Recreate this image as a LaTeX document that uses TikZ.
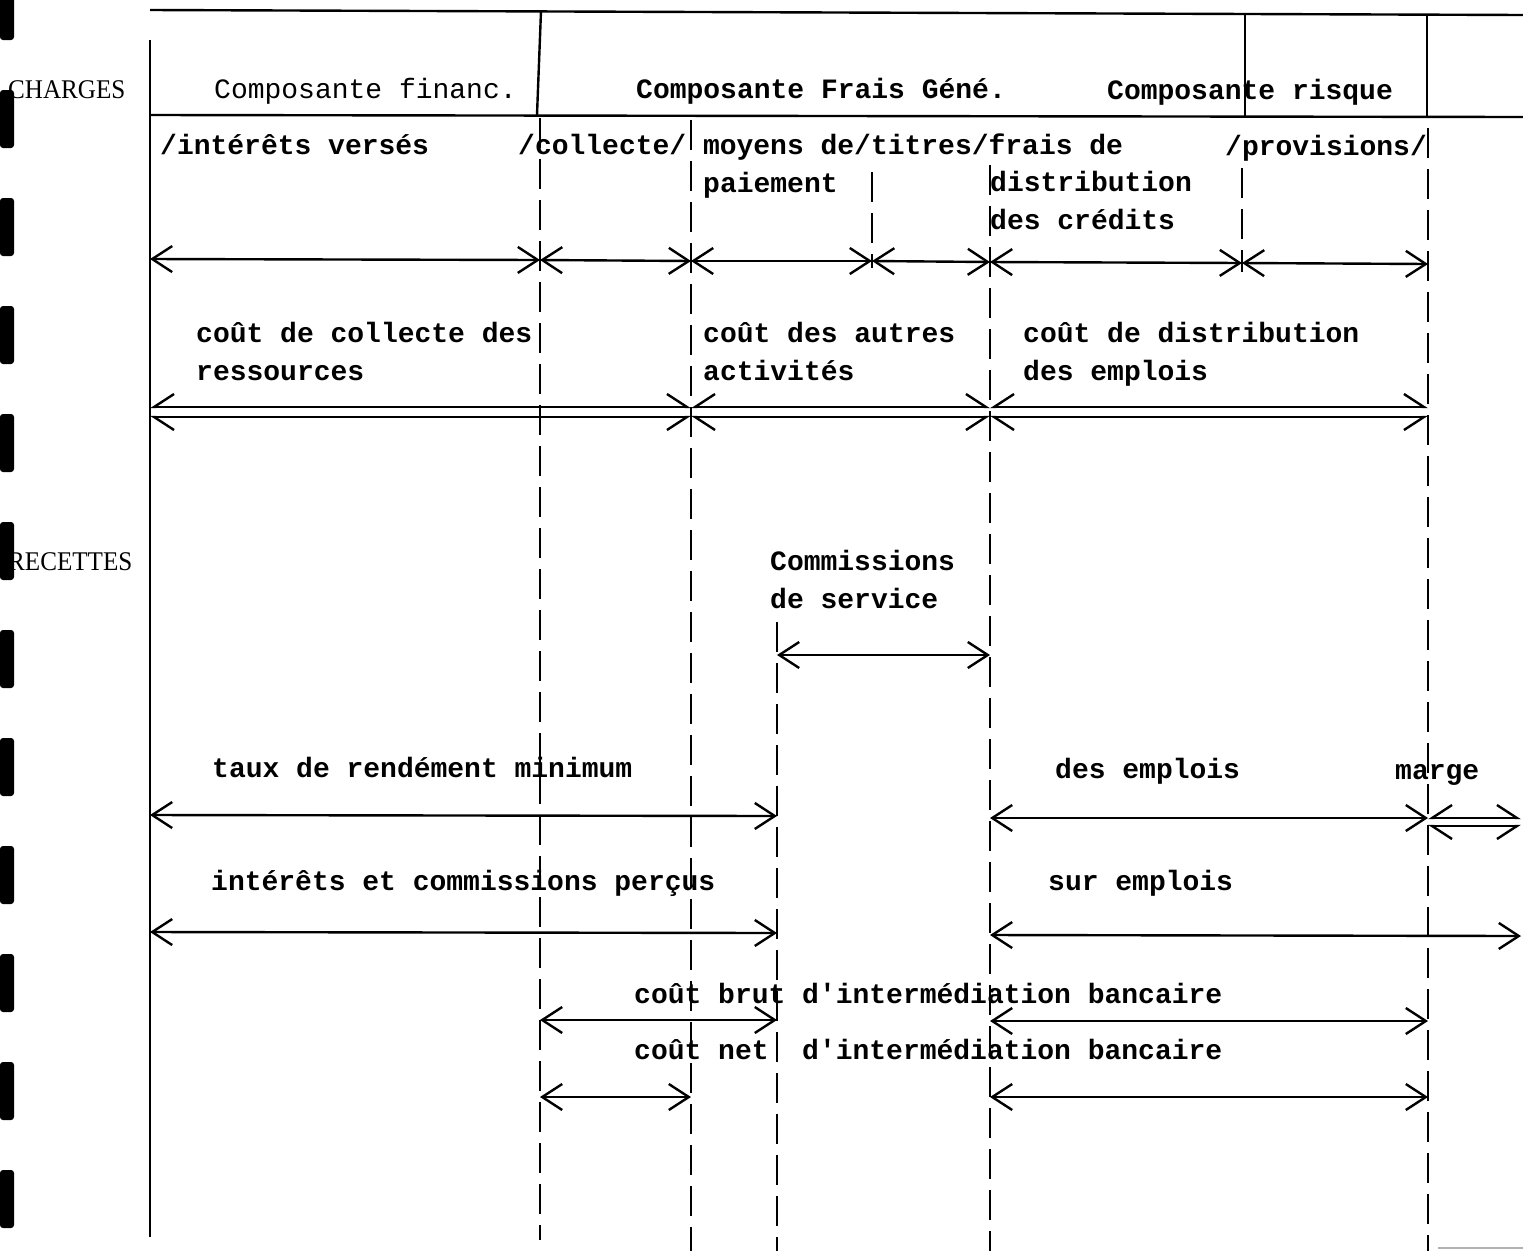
\documentclass[tikz,border=0pt]{standalone}
\usepackage{fontspec}
\setmainfont{Liberation Serif}
\setmonofont{Liberation Mono}
\usepackage{tikz}
\usetikzlibrary{arrows.meta}

\begin{document}
\begin{tikzpicture}[
x=1pt,y=-1pt,
Frame/.style={line width=2.4pt},
Guide/.style={line width=2pt,dash pattern=on 30pt off 11pt},
Dim/.style={<->,>={Straight Barb[length=20pt,width=26pt]},line width=2.4pt},
DimUp/.style={arrows={Straight Barb[harpoon,swap,length=20pt,width=26pt]-Straight Barb[harpoon,length=20pt,width=26pt]},line width=2.4pt},
DimDown/.style={arrows={Straight Barb[harpoon,length=20pt,width=26pt]-Straight Barb[harpoon,swap,length=20pt,width=26pt]},line width=2.4pt},
Typed/.style={font=\ttfamily\bfseries\fontsize{28}{37.5}\selectfont,inner sep=0pt,anchor=base west,align=left},
TypedLight/.style={Typed,font=\ttfamily\fontsize{28}{37.5}\selectfont},
Side/.style={font=\fontsize{27}{30}\selectfont,xscale=0.93,inner sep=0pt,anchor=base west},
Sprocket/.style={fill=black,rounded corners=3pt}
]
\useasboundingbox (0,0) rectangle (1523,1251);

% columns of the table
\pgfmathparse{150}   \let\Xa\pgfmathresult
\pgfmathparse{540}   \let\Xb\pgfmathresult
\pgfmathparse{691}   \let\Xc\pgfmathresult
\pgfmathparse{777}   \let\Xd\pgfmathresult
\pgfmathparse{872}   \let\Xe\pgfmathresult
\pgfmathparse{990}   \let\Xf\pgfmathresult
\pgfmathparse{1242}  \let\Xg\pgfmathresult
\pgfmathparse{1428}  \let\Xh\pgfmathresult
\pgfmathparse{1521}  \let\Xk\pgfmathresult

% header frame
\coordinate (TopL) at (\Xa,10);
\coordinate (TopR) at (1523,15);
\coordinate (HeadL) at (\Xa,115);
\coordinate (HeadR) at (1523,117);
\coordinate (LeftTop) at (\Xa,40);
\coordinate (LeftBot) at (\Xa,1237);
\draw[Frame] (TopL)--(TopR);
\draw[Frame] (HeadL)--(HeadR);
\draw[Frame] (LeftTop)--(LeftBot);

\coordinate (SepBtop) at (541,11);
\coordinate (SepBbot) at (537,115);
\coordinate (SepGtop) at (1245,14);
\coordinate (SepGbot) at (1245,116);
\coordinate (SepHtop) at (1427,15);
\coordinate (SepHbot) at (1427,117);
\draw[Frame] (SepBtop)--(SepBbot);
\draw[Frame] (SepGtop)--(SepGbot);
\draw[Frame] (SepHtop)--(SepHbot);

\node[Side] (charges) at (8,98) {CHARGES};
\node[Side] (recettes) at (8,570) {RECETTES};
\node[TypedLight] (finan) at (214,98) {Composante financ.};
\node[Typed] (frais) at (636,98) {Composante Frais Géné.};
\node[Typed] (risque) at (1107,99) {Composante risque};

% dashed guides
\coordinate (GuideBtop) at (\Xb,118);
\coordinate (GuideBbot) at (\Xb,1240);
\coordinate (GuideCtop) at (\Xc,120);
\coordinate (GuideCbot) at (\Xc,1251);
\coordinate (GuideDtop) at (\Xd,622);
\coordinate (GuideDbot) at (\Xd,1251);
\coordinate (GuideEtop) at (\Xe,172);
\coordinate (GuideEbot) at (\Xe,268);
\coordinate (GuideFtop) at (\Xf,165);
\coordinate (GuideFbot) at (\Xf,1251);
\coordinate (GuideGtop) at (\Xg,168);
\coordinate (GuideGbot) at (\Xg,272);
\coordinate (GuideHtop) at (\Xh,128);
\coordinate (GuideHbot) at (\Xh,1251);
\draw[Guide] (GuideBtop)--(GuideBbot);
\draw[Guide] (GuideCtop)--(GuideCbot);
\draw[Guide] (GuideDtop)--(GuideDbot);
\draw[Guide] (GuideEtop)--(GuideEbot);
\draw[Guide] (GuideFtop)--(GuideFbot);
\draw[Guide] (GuideGtop)--(GuideGbot);
\draw[Guide] (GuideHtop)--(GuideHbot);

% charges, first level
\node[Typed] (verses) at (160,154) {/intérêts versés};
\node[Typed] (collecte) at (518,154) {/collecte/ moyens de/titres/frais de};
\node[Typed] (provis) at (1225,155) {/provisions/};
\node[Typed] (paiement) at (703,192) {paiement};
\node[Typed] (distrib) at (990,229) {distribution\\des crédits};

\coordinate (A1) at (\Xa,259);
\coordinate (B1) at (\Xb,260);
\coordinate (C1) at (\Xc,261);
\coordinate (E1) at (\Xe,261);
\coordinate (F1) at (\Xf,262);
\coordinate (G1) at (\Xg,263);
\coordinate (H1) at (\Xh,264);
\draw[Dim] (A1)--(B1);
\draw[Dim] (B1)--(C1);
\draw[Dim] (C1)--(E1);
\draw[Dim] (E1)--(F1);
\draw[Dim] (F1)--(G1);
\draw[Dim] (G1)--(H1);

% charges, second level
\node[Typed] (ressour) at (196,380) {coût de collecte des\\ressources};
\node[Typed] (autres) at (703,380) {coût des autres\\activités};
\node[Typed] (emplois) at (1023,380) {coût de distribution\\des emplois};

\coordinate (A2) at (\Xa,407);
\coordinate (C2) at (\Xc,407);
\coordinate (F2) at (\Xf,407);
\coordinate (H2) at (\Xh,407);
\coordinate (A2b) at (\Xa,417);
\coordinate (C2b) at (\Xc,417);
\coordinate (F2b) at (\Xf,417);
\coordinate (H2b) at (\Xh,417);
\draw[DimUp] (A2)--(C2);
\draw[DimUp] (C2)--(F2);
\draw[DimUp] (F2)--(H2);
\draw[DimDown] (A2b)--(C2b);
\draw[DimDown] (C2b)--(F2b);
\draw[DimDown] (F2b)--(H2b);

% recettes
\node[Typed] (service) at (770,608) {Commissions\\de service};
\coordinate (D3) at (\Xd,655);
\coordinate (F3) at (\Xf,655);
\draw[Dim] (D3)--(F3);

\node[Typed] (taux) at (212,777) {taux de rendément minimum};
\node[Typed] (desempl) at (1055,778) {des emplois};
\node[Typed] (marge) at (1395,779) {marge};
\coordinate (A4) at (\Xa,815);
\coordinate (D4) at (\Xd,816);
\coordinate (F4) at (\Xf,818);
\coordinate (H4) at (\Xh,818);
\coordinate (K4) at (\Xk,818);
\coordinate (H4b) at (\Xh,826);
\coordinate (K4b) at (\Xk,826);
\draw[Dim] (A4)--(D4);
\draw[Dim] (F4)--(H4);
\draw[DimUp] (H4)--(K4);
\draw[DimDown] (H4b)--(K4b);

\node[Typed] (percus) at (211,890) {intérêts et commissions perçus};
\node[Typed] (surempl) at (1048,890) {sur emplois};
\coordinate (A5) at (\Xa,932);
\coordinate (D5) at (\Xd,933);
\coordinate (F5) at (\Xf,935);
\coordinate (K5) at (\Xk,936);
\draw[Dim] (A5)--(D5);
\draw[Dim] (F5)--(K5);

% intermediation
\node[Typed] (brut) at (634,1003) {coût brut d'intermédiation bancaire};
\coordinate (B6) at (\Xb,1020);
\coordinate (D6) at (\Xd,1020);
\coordinate (F6) at (\Xf,1021);
\coordinate (H6) at (\Xh,1021);
\draw[Dim] (B6)--(D6);
\draw[Dim] (F6)--(H6);

\node[Typed] (net) at (634,1059) {coût net~ d'intermédiation bancaire};
\coordinate (B7) at (\Xb,1097);
\coordinate (C7) at (\Xc,1097);
\coordinate (F7) at (\Xf,1097);
\coordinate (H7) at (\Xh,1097);
\draw[Dim] (B7)--(C7);
\draw[Dim] (F7)--(H7);

% film edge
\fill[Sprocket] (0,-18) rectangle (14,40);
\fill[Sprocket] (0,90) rectangle (14,148);
\fill[Sprocket] (0,198) rectangle (14,256);
\fill[Sprocket] (0,306) rectangle (14,364);
\fill[Sprocket] (0,414) rectangle (14,472);
\fill[Sprocket] (0,522) rectangle (14,580);
\fill[Sprocket] (0,630) rectangle (14,688);
\fill[Sprocket] (0,738) rectangle (14,796);
\fill[Sprocket] (0,846) rectangle (14,904);
\fill[Sprocket] (0,954) rectangle (14,1012);
\fill[Sprocket] (0,1062) rectangle (14,1120);
\fill[Sprocket] (0,1170) rectangle (14,1228);
\draw[gray!60,line width=2pt] (1438,1248)--(1523,1248);

\end{tikzpicture}
\end{document}
